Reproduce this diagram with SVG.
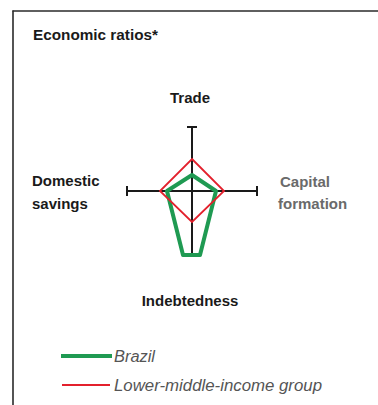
<svg xmlns="http://www.w3.org/2000/svg" width="378" height="405" viewBox="0 0 378 405">
<style>
text{font-family:"Liberation Sans",Arial,sans-serif;}
.t{font-weight:bold;font-size:15px;fill:#1a1a1a;}
.g{font-weight:bold;font-size:15px;fill:#6a6a6a;}
.lg{font-style:italic;font-size:16px;fill:#555;}
.ax{stroke:#1a1a1a;stroke-width:2;fill:none;}
</style>
<rect width="378" height="405" fill="#fff"/>
<g id="frame" stroke="#2a2a2a" stroke-width="1.6" fill="none">
<line x1="12.5" y1="11" x2="378" y2="11"/>
<line x1="13" y1="10.5" x2="13" y2="405"/>
</g>
<text id="title" class="t" x="33" y="40" textLength="125" lengthAdjust="spacingAndGlyphs">Economic ratios*</text>
<g id="connectors">
<g id="axes" class="ax">
<line x1="192" y1="127" x2="192" y2="255"/>
<line x1="187" y1="127" x2="197" y2="127"/>
<line x1="187" y1="255" x2="197" y2="255"/>
<line x1="127" y1="191" x2="257" y2="191"/>
<line x1="127" y1="186" x2="127" y2="196"/>
<line x1="257" y1="186" x2="257" y2="196"/>
</g>
<polygon id="brazil" points="192,175 216,191 200,255 183,255 167,191" fill="none" stroke="#1f9a52" stroke-width="4" stroke-linejoin="round"/>
<polygon id="lmi" points="192,159 224,191 192,222 160,191" fill="none" stroke="#e3202c" stroke-width="1.8"/>
</g>
<g id="trade"><text class="t" x="190" y="103" text-anchor="middle">Trade</text></g>
<g id="savings"><text class="t" x="32" y="186">Domestic</text><text class="t" x="32" y="209">savings</text></g>
<g id="capital"><text class="g" x="280" y="187">Capital</text><text class="g" x="278" y="209">formation</text></g>
<g id="indebtedness"><text class="t" x="190" y="306" text-anchor="middle">Indebtedness</text></g>
<g id="legend">
<line x1="61" y1="356" x2="112" y2="356" stroke="#1f9a52" stroke-width="4"/>
<text class="lg" x="114" y="362" textLength="41" lengthAdjust="spacingAndGlyphs">Brazil</text>
<line x1="62" y1="385" x2="110" y2="385" stroke="#e3202c" stroke-width="1.8"/>
<text class="lg" x="114" y="391" textLength="208" lengthAdjust="spacingAndGlyphs">Lower-middle-income group</text>
</g>
</svg>
